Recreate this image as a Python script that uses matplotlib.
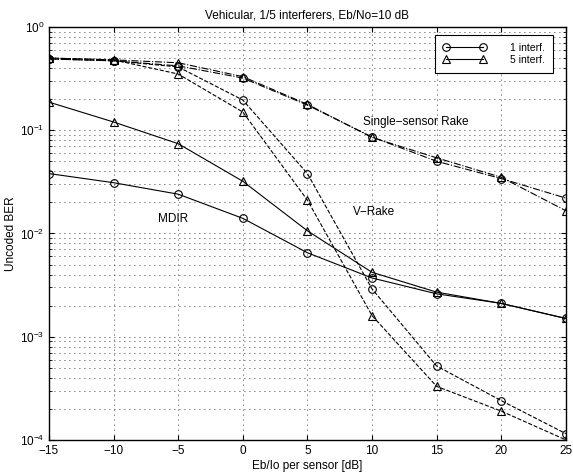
import numpy as np
import matplotlib.pyplot as plt
from matplotlib.ticker import LogLocator, NullFormatter

plt.rcParams['font.family'] = ['Liberation Sans', 'DejaVu Sans']

# Eb/Io per sensor [dB]
snr = [-15, -10, -5, 0, 5, 10, 15, 20, 25]

# single-sensor rake
ssr_1 = [0.49, 0.47, 0.42, 0.32, 0.175, 0.086, 0.050, 0.034, 0.022]
ssr_5 = [0.50, 0.48, 0.45, 0.33, 0.178, 0.085, 0.054, 0.035, 0.0166]
# V-rake
vr_1 = [0.49, 0.47, 0.41, 0.196, 0.038, 0.0029, 0.00052, 0.00024, 0.000115]
vr_5 = [0.50, 0.48, 0.35, 0.15, 0.021, 0.0016, 0.00033, 0.00019, 0.0001]
# MDIR
md_1 = [0.038, 0.031, 0.024, 0.014, 0.0065, 0.0037, 0.0026, 0.0021, 0.0015]
md_5 = [0.187, 0.12, 0.074, 0.032, 0.0106, 0.0042, 0.0027, 0.0021, 0.0015]

fig = plt.figure(figsize=(5.73, 4.73), dpi=100)
ax = fig.add_axes([0.0855, 0.07, 0.902, 0.873])

mk = dict(markersize=5.5, markerfacecolor='none', markeredgewidth=0.8, color='black', linewidth=0.8)

ax.semilogy(snr, ssr_1, '-.', marker='o', **mk)
ax.semilogy(snr, ssr_5, '-.', marker='^', **mk)
ax.semilogy(snr, vr_1, '--', marker='o', **mk)
ax.semilogy(snr, vr_5, '--', marker='^', **mk)
ax.semilogy(snr, md_1, '-', marker='o', label='1 interf.', **mk)
ax.semilogy(snr, md_5, '-', marker='^', label='5 interf.', **mk)

ax.set_xlim(-15, 25)
ax.set_ylim(1e-4, 1)
ax.set_xticks([-15, -10, -5, 0, 5, 10, 15, 20, 25])
ax.yaxis.set_major_locator(LogLocator(base=10, numticks=10))
ax.yaxis.set_minor_locator(LogLocator(base=10, subs=np.arange(2, 10), numticks=10))
ax.yaxis.set_minor_formatter(NullFormatter())

dots = (0, (1, 5))
ax.grid(True, which='major', axis='both', linestyle=dots, color='black', linewidth=0.6)
ax.grid(True, which='minor', axis='y', linestyle=dots, color='black', linewidth=0.6)

ax.tick_params(which='both', direction='in', top=True, right=True, labelsize=8.5)
for s in ax.spines.values():
    s.set_linewidth(1.0)

ax.set_title('Vehicular, 1/5 interferers, Eb/No=10 dB', fontsize=8.5, pad=6)
ax.set_xlabel('Eb/Io per sensor [dB]', fontsize=8.5, labelpad=2)
ax.set_ylabel('Uncoded BER', fontsize=8.5, labelpad=2)

ax.text(9.3, 0.12, 'Single\u2212sensor Rake', fontsize=8.5, va='center')
ax.text(8.5, 0.016, 'V\u2212Rake', fontsize=8.5, va='center')
ax.text(-6.6, 0.0138, 'MDIR', fontsize=8.5, va='center')

leg = ax.legend(loc='upper right', bbox_to_anchor=(0.975, 0.981), borderaxespad=0,
                fontsize=7.5, numpoints=2, fancybox=False, framealpha=1,
                edgecolor='black', handlelength=4.1, borderpad=0.8,
                labelspacing=0.15, handletextpad=2.3)
leg.get_frame().set_linewidth(0.8)

fig.savefig('out.png', dpi=100)
